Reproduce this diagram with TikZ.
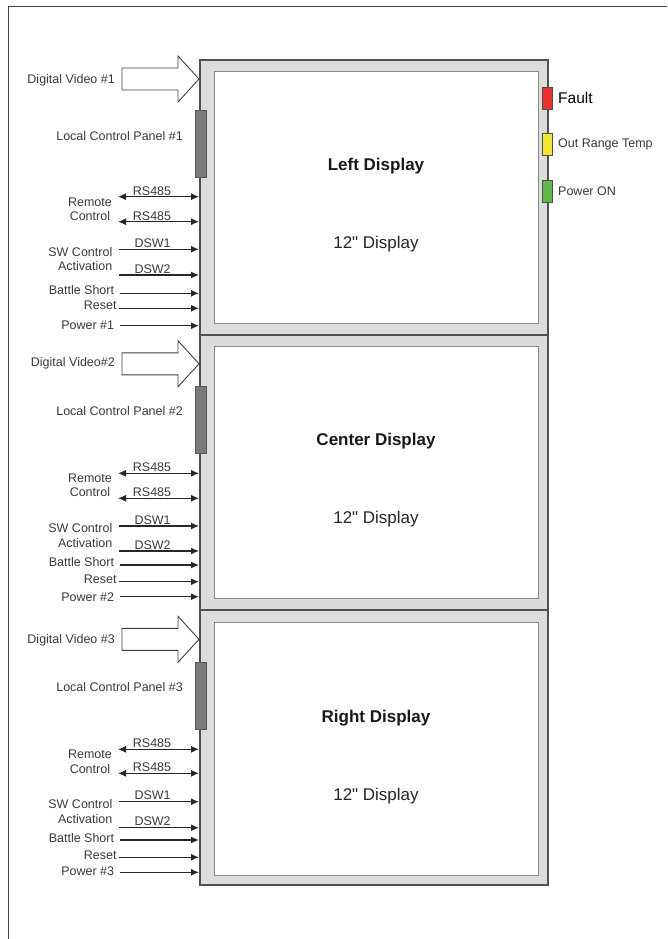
\documentclass[tikz,border=0pt]{standalone}
\usepackage{fontspec}
\setmainfont{Liberation Sans}[Ligatures=TeXOff]
\usetikzlibrary{arrows.meta,positioning}
\definecolor{frameGray}{HTML}{DCDCDC}
\definecolor{frameEdge}{HTML}{505050}
\definecolor{screenEdge}{HTML}{8A8A8A}
\definecolor{panelGray}{HTML}{7A7A7A}
\definecolor{labelText}{HTML}{3A3A3A}
\definecolor{borderLine}{HTML}{444444}
\definecolor{lampRed}{HTML}{E8322B}
\definecolor{lampYellow}{HTML}{F2E833}
\definecolor{lampGreen}{HTML}{62B94A}

\begin{document}
\begin{tikzpicture}[x=1pt,y=-1pt,
lbl/.style={font=\fontsize{12.5}{14.4}\selectfont,text=labelText,inner sep=2pt},
sigtxt/.style={lbl,above,inner sep=1pt,pos=.42},
dispframe/.style={draw=frameEdge,fill=frameGray,line width=1.8pt,minimum width=348pt,minimum height=275pt,anchor=north west,inner sep=0pt},
screen/.style={draw=screenEdge,fill=white,line width=1.3pt,minimum width=324pt,minimum height=252pt,anchor=north west,inner sep=0pt},
title/.style={font=\fontsize{17}{20}\selectfont\bfseries,text=black!90},
subtitle/.style={font=\fontsize{17}{20}\selectfont,text=black!85},
panel/.style={draw=black!65,fill=panelGray,line width=.8pt,minimum width=11pt,minimum height=67pt,inner sep=0pt},
lamp/.style={draw=black!70,line width=.6pt,minimum width=10.4pt,minimum height=21.5pt,inner sep=0pt},
vidarrow/.style={draw=black!75,fill=white,line width=.9pt,line join=miter},
sig/.style={draw=black!85,line width=1.3pt,-{Latex[length=8pt,width=7pt]}},
bisig/.style={sig,line width=1pt,{Latex[length=8pt,width=7pt]}-{Latex[length=8pt,width=7pt]}}]
\useasboundingbox (0,0) rectangle (667,939);
\draw[borderLine,line width=1.3pt] (8.5,939) -- (8.5,6.7) -- (667,6.7);

\node[dispframe] (d1) at (199,59) {};
\node[screen] (scr1) at (214,71) {};
\node[dispframe] (d2) at (199,334) {};
\node[screen] (scr2) at (214,346) {};
\node[dispframe] (d3) at (199,609) {};
\node[screen,minimum height=253pt] (scr3) at (214,622) {};

\node[title] (t1) at (376,166.5) {Left Display};
\node[subtitle] (s1) at (376,244) {12" Display};
\node[title] (t2) at (376,441.5) {Center Display};
\node[subtitle] (s2) at (376,519) {12" Display};
\node[title] (t3) at (376,718.3) {Right Display};
\node[subtitle] (s3) at (376,796) {12" Display};

\node[lamp,fill=lampRed] (fault) at (547.5,98.3) {};
\node[lamp,fill=lampYellow] (temp) at (547.5,144.2) {};
\node[lamp,fill=lampGreen] (pwron) at (547.5,191.2) {};
\node[font=\fontsize{15.5}{18}\selectfont,inner sep=2pt,right=3pt of fault] (faultlbl) {Fault};
\node[lbl,right=3pt of temp] (templbl) {Out Range Temp};
\node[lbl,right=3pt of pwron] (pwronlbl) {Power ON};

\coordinate (dv1) at (199,79);
\draw[vidarrow] (dv1) -- ++(-21,-23) -- ++(0,12) -- ++(-56,0) -- ++(0,22) -- ++(56,0) -- ++(0,12) -- cycle;
\node[lbl,anchor=east] (dvlbl1) at (117,80) {Digital Video \#1};
\node[panel] (lcp1) at (200.5,143.5) {};
\node[lbl,anchor=east] (lcplbl1) at (185,136) {Local Control Panel \#1};
\coordinate (rsa1) at (118,196.7);
\coordinate (rsb1) at (118,221.7);
\draw[bisig] (rsa1) -- node[sigtxt] {RS485} (rsa1 -| d1.west);
\draw[bisig] (rsb1) -- node[sigtxt] {RS485} (rsb1 -| d1.west);
\node[lbl,anchor=east,align=center] (rc1) at (114,209.5) {Remote\\Control};
\coordinate (dswa1) at (119,249.3);
\coordinate (dswb1) at (119,275);
\draw[sig] (dswa1) -- node[sigtxt] {DSW1} (dswa1 -| d1.west);
\draw[sig] (dswb1) -- node[sigtxt] {DSW2} (dswb1 -| d1.west);
\node[lbl,anchor=east,align=right] (swc1) at (114.5,258.8) {SW Control\\Activation};
\coordinate (bs1) at (120,293.3);
\coordinate (rst1) at (119.3,308.3);
\coordinate (pw1) at (120,325.7);
\draw[sig] (bs1) -- (bs1 -| d1.west);
\draw[sig] (rst1) -- (rst1 -| d1.west);
\draw[sig] (pw1) -- (pw1 -| d1.west);
\node[lbl,anchor=east] (bslbl1) at (116.3,290) {Battle Short};
\node[lbl,anchor=east] (rstlbl1) at (118.7,305.7) {Reset};
\node[lbl,anchor=east] (pwlbl1) at (116.3,325) {Power \#1};

\coordinate (dv2) at (199,363.8);
\draw[vidarrow] (dv2) -- ++(-21,-23) -- ++(0,12) -- ++(-56,0) -- ++(0,22) -- ++(56,0) -- ++(0,12) -- cycle;
\node[lbl,anchor=east] (dvlbl2) at (117,363.3) {Digital Video\#2};
\node[panel] (lcp2) at (200.5,419.5) {};
\node[lbl,anchor=east] (lcplbl2) at (185,410.7) {Local Control Panel \#2};
\coordinate (rsa2) at (118,473.3);
\coordinate (rsb2) at (118,498.3);
\draw[bisig] (rsa2) -- node[sigtxt] {RS485} (rsa2 -| d2.west);
\draw[bisig] (rsb2) -- node[sigtxt] {RS485} (rsb2 -| d2.west);
\node[lbl,anchor=east,align=center] (rc2) at (114,485.5) {Remote\\Control};
\coordinate (dswa2) at (119,526);
\coordinate (dswb2) at (119,551);
\draw[sig] (dswa2) -- node[sigtxt] {DSW1} (dswa2 -| d2.west);
\draw[sig] (dswb2) -- node[sigtxt] {DSW2} (dswb2 -| d2.west);
\node[lbl,anchor=east,align=right] (swc2) at (114.5,535.5) {SW Control\\Activation};
\coordinate (bs2) at (120,565);
\coordinate (rst2) at (119.3,581.7);
\coordinate (pw2) at (120,596.7);
\draw[sig] (bs2) -- (bs2 -| d2.west);
\draw[sig] (rst2) -- (rst2 -| d2.west);
\draw[sig] (pw2) -- (pw2 -| d2.west);
\node[lbl,anchor=east] (bslbl2) at (116.3,562.3) {Battle Short};
\node[lbl,anchor=east] (rstlbl2) at (118.7,579) {Reset};
\node[lbl,anchor=east] (pwlbl2) at (116.3,596.7) {Power \#2};

\coordinate (dv3) at (199,639.3);
\draw[vidarrow] (dv3) -- ++(-21,-23) -- ++(0,12) -- ++(-56,0) -- ++(0,22) -- ++(56,0) -- ++(0,12) -- cycle;
\node[lbl,anchor=east] (dvlbl3) at (117,640.7) {Digital Video \#3};
\node[panel] (lcp3) at (200.5,695.8) {};
\node[lbl,anchor=east] (lcplbl3) at (185,686.7) {Local Control Panel \#3};
\coordinate (rsa3) at (118,749.3);
\coordinate (rsb3) at (118,773.3);
\draw[bisig] (rsa3) -- node[sigtxt] {RS485} (rsa3 -| d3.west);
\draw[bisig] (rsb3) -- node[sigtxt] {RS485} (rsb3 -| d3.west);
\node[lbl,anchor=east,align=center] (rc3) at (114,761.7) {Remote\\Control};
\coordinate (dswa3) at (119,801.7);
\coordinate (dswb3) at (119,827.7);
\draw[sig] (dswa3) -- node[sigtxt] {DSW1} (dswa3 -| d3.west);
\draw[sig] (dswb3) -- node[sigtxt] {DSW2} (dswb3 -| d3.west);
\node[lbl,anchor=east,align=right] (swc3) at (114.5,811.7) {SW Control\\Activation};
\coordinate (bs3) at (120,840);
\coordinate (rst3) at (119.3,857.3);
\coordinate (pw3) at (120,872.3);
\draw[sig] (bs3) -- (bs3 -| d3.west);
\draw[sig] (rst3) -- (rst3 -| d3.west);
\draw[sig] (pw3) -- (pw3 -| d3.west);
\node[lbl,anchor=east] (bslbl3) at (116.3,838.3) {Battle Short};
\node[lbl,anchor=east] (rstlbl3) at (118.7,855) {Reset};
\node[lbl,anchor=east] (pwlbl3) at (116.3,870.7) {Power \#3};
\end{tikzpicture}
\end{document}
